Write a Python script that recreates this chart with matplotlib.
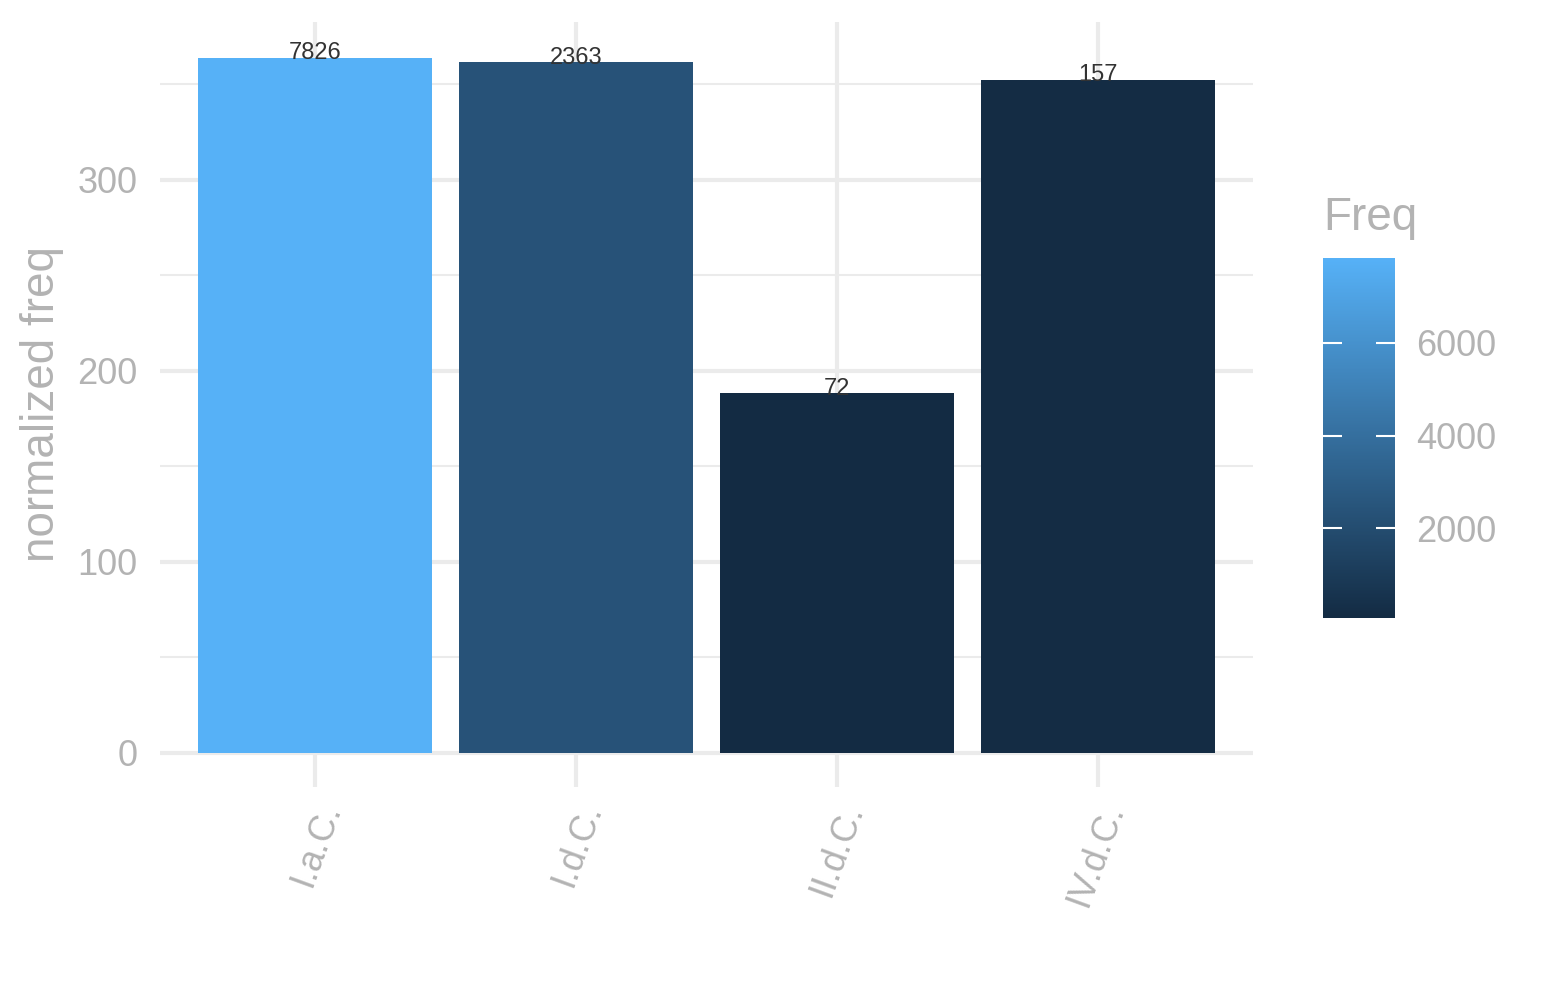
import matplotlib
matplotlib.use("Agg")
import matplotlib.pyplot as plt
from matplotlib.colors import LinearSegmentedColormap, Normalize
from matplotlib.cm import ScalarMappable

# data
periods = ["I.a.C.", "I.d.C.", "II.d.C.", "IV.d.C."]
norm_freq = [364, 361.5, 188.5, 352.5]
freq = [7826, 2363, 72, 157]

plt.rcParams["font.family"] = ["Liberation Sans", "DejaVu Sans"]
GRID = "#EBEBEB"
TXT = "#B3B3B3"

cmap = LinearSegmentedColormap.from_list("gg", ["#132B43", "#56B1F7"])
norm = Normalize(vmin=min(freq), vmax=max(freq))

fig = plt.figure(figsize=(15.45, 10), dpi=100)
ax = fig.add_axes([160 / 1545, 213 / 1000, 1093 / 1545, 765 / 1000])

x = list(range(1, len(periods) + 1))
ax.bar(x, norm_freq, width=0.9, color=[cmap(norm(f)) for f in freq], zorder=2)
for xi, h, f in zip(x, norm_freq, freq):
    ax.text(xi, h - 3.5, str(f), ha="center", va="bottom", fontsize=17,
            color="#333333", zorder=3)

ax.set_xlim(0.406, 4.594)
ax.set_ylim(-17.8, 382.7)
ax.set_xticks(x)
ax.set_xticklabels(periods, rotation=70, ha="right", va="top",
                   rotation_mode="anchor", fontsize=26, color=TXT)
ax.set_yticks([0, 100, 200, 300])
ax.set_yticks([50, 150, 250, 350], minor=True)
ax.tick_params(axis="y", labelsize=26, labelcolor=TXT, length=0, pad=16)
ax.tick_params(axis="y", which="minor", length=0)
ax.tick_params(axis="x", length=0, pad=8)
ax.grid(True, which="major", color=GRID, lw=3, zorder=0)
ax.grid(True, which="minor", axis="y", color=GRID, lw=1.5, zorder=0)
ax.set_axisbelow(True)
for s in ax.spines.values():
    s.set_visible(False)
ax.set_ylabel("normalized freq", fontsize=33, color=TXT, labelpad=10)

# colour bar legend
cax = fig.add_axes([1323 / 1545, 382 / 1000, 72 / 1545, 360 / 1000])
cb = fig.colorbar(ScalarMappable(norm=norm, cmap=cmap), cax=cax)
cb.outline.set_visible(False)
cb.set_ticks([2000, 4000, 6000])
cax.tick_params(direction="in", length=14, width=1.5, color="white",
                left=True, right=True, labelsize=26, labelcolor=TXT, pad=15)
fig.text(1323 / 1545, 1 - 218 / 1000, "Freq", fontsize=33,
         color=TXT, ha="left", va="center")

fig.savefig("out.png", dpi=100, facecolor="white")
